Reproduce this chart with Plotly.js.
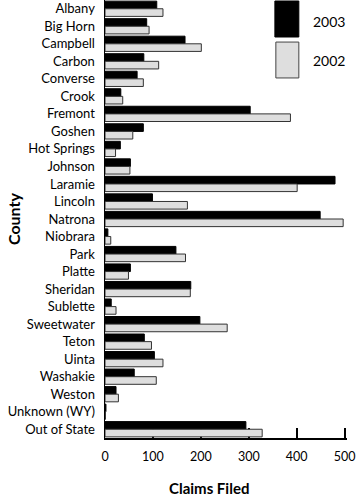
<!DOCTYPE html>
<html>
<head>
<meta charset="utf-8">
<script src="https://cdn.plot.ly/plotly-3.0.1.min.js"></script>
<style>html,body{margin:0;padding:0;background:#fff;}#chart{width:356px;height:497px;}</style>
</head>
<body>
<div id="chart"></div>
<script>
const counties = ["Albany","Big Horn","Campbell","Carbon","Converse","Crook","Fremont","Goshen","Hot Springs","Johnson","Laramie","Lincoln","Natrona","Niobrara","Park","Platte","Sheridan","Sublette","Sweetwater","Teton","Uinta","Washakie","Weston","Unknown (WY)","Out of State"];
const claims2003 = [108,87,167,81,67,33,303,80,32,53,480,99,449,6,148,53,179,13,198,82,103,61,23,2,294];
const claims2002 = [121,92,201,112,80,37,387,58,22,52,401,172,497,12,168,49,178,23,255,97,121,107,28,1,328];
const seriesNames = ["2003","2002"];
const xTicks = [0,100,200,300,400,500];

const FONT = "Lato, 'Open Sans', sans-serif";

const traces = [
  {type:"bar", orientation:"h", name:seriesNames[0], y:counties, x:claims2003,
   marker:{color:"#000000", line:{color:"#000000", width:1}}, hoverinfo:"x+y"},
  {type:"bar", orientation:"h", name:seriesNames[1], y:counties, x:claims2002,
   marker:{color:"#dedede", line:{color:"#333333", width:1}}, hoverinfo:"x+y"}
];

const layout = {
  width:356, height:497,
  margin:{l:105, r:9, t:0, b:59, pad:0},
  paper_bgcolor:"#ffffff", plot_bgcolor:"#ffffff",
  font:{family:FONT, color:"#000000", size:13},
  barmode:"group", bargap:0.13, bargroupgap:0,
  showlegend:false,
  xaxis:{range:[0,505], tickvals:xTicks, ticktext:xTicks.map(String),
    ticks:"inside", ticklen:10, tickwidth:2, tickcolor:"#000",
    showline:true, linecolor:"#000", linewidth:1.5, showgrid:false, zeroline:false,
    layer:"below traces", tickfont:{size:12.5, family:FONT}, ticklabelstandoff:6, fixedrange:true},
  yaxis:{type:"category", autorange:"reversed", showline:true, linecolor:"#000", linewidth:1.5,
    ticks:"", showgrid:false, zeroline:false, tickfont:{size:13, family:FONT},
    ticklabelstandoff:6, layer:"below traces", fixedrange:true},
  shapes:[
    {type:"rect", xref:"paper", yref:"paper", x0:0.702, x1:0.801, y0:0.9155, y1:0.9977,
     fillcolor:"#000000", line:{color:"#000000", width:1}},
    {type:"rect", xref:"paper", yref:"paper", x0:0.706, x1:0.801, y0:0.822, y1:0.904,
     fillcolor:"#dedede", line:{color:"#444444", width:1}}
  ],
  annotations:[
    {xref:"paper", yref:"paper", x:0.85, y:0.952, xanchor:"left", yanchor:"middle",
     text:seriesNames[0], showarrow:false, font:{size:14, family:FONT}},
    {xref:"paper", yref:"paper", x:0.85, y:0.863, xanchor:"left", yanchor:"middle",
     text:seriesNames[1], showarrow:false, font:{size:14, family:FONT}},
    {xref:"paper", yref:"paper", x:0.43, y:-0.115, xanchor:"center", yanchor:"middle",
     text:"<b>Claims Filed</b>", showarrow:false, font:{size:15, family:FONT}},
    {xref:"paper", yref:"paper", x:-0.38, y:0.50, xanchor:"center", yanchor:"middle", textangle:-90,
     text:"<b>County</b>", showarrow:false, font:{size:16, family:FONT}}
  ]
};

Plotly.newPlot("chart", traces, layout, {displayModeBar:false, staticPlot:true});
</script>
</body>
</html>
